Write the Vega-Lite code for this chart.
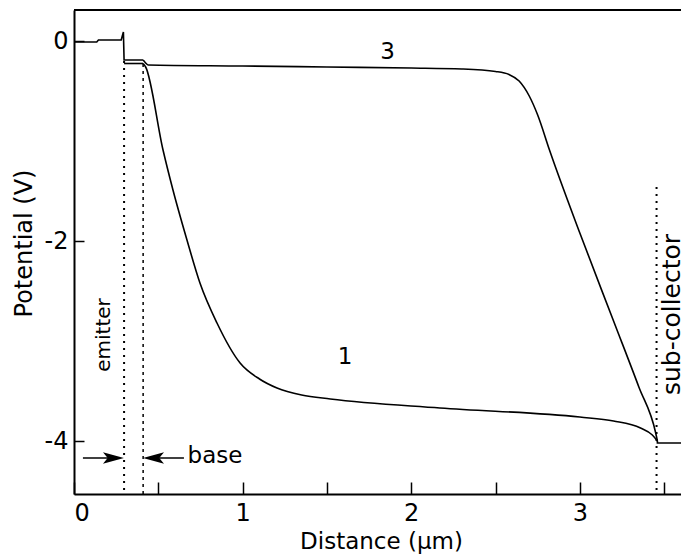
{
  "$schema": "https://vega.github.io/schema/vega-lite/v6.json",
  "width": 607,
  "height": 484,
  "autosize": {"type": "none"},
  "padding": {"left": 74, "top": 10, "right": 0, "bottom": 64},
  "background": "white",
  "config": {"view": {"stroke": null}},
  "datasets": {
    "straight": [
      {"curve": "e", "i": 0, "x": 0.0, "y": -0.01},
      {"curve": "e", "i": 1, "x": 0.135, "y": -0.01},
      {"curve": "e", "i": 2, "x": 0.145, "y": 0.01},
      {"curve": "e", "i": 3, "x": 0.28, "y": 0.01},
      {"curve": "e", "i": 4, "x": 0.293, "y": 0.09},
      {"curve": "e", "i": 5, "x": 0.297, "y": -0.19},
      {"curve": "e", "i": 6, "x": 0.41, "y": -0.19},
      {"curve": "b", "i": 0, "x": 0.297, "y": -0.225},
      {"curve": "b", "i": 1, "x": 0.41, "y": -0.225},
      {"curve": "s", "i": 0, "x": 3.46, "y": -4.0},
      {"curve": "s", "i": 1, "x": 3.46, "y": -4.02},
      {"curve": "s", "i": 2, "x": 3.6, "y": -4.02}
    ],
    "smooth": [
      {"curve": "3", "x": 0.41, "y": -0.19},
      {"curve": "3", "x": 0.425, "y": -0.22},
      {"curve": "3", "x": 0.44, "y": -0.24},
      {"curve": "3", "x": 1.0, "y": -0.25},
      {"curve": "3", "x": 1.5, "y": -0.26},
      {"curve": "3", "x": 2.0, "y": -0.27},
      {"curve": "3", "x": 2.3, "y": -0.28},
      {"curve": "3", "x": 2.5, "y": -0.305},
      {"curve": "3", "x": 2.58, "y": -0.335},
      {"curve": "3", "x": 2.64, "y": -0.4},
      {"curve": "3", "x": 2.7, "y": -0.55},
      {"curve": "3", "x": 2.75, "y": -0.74},
      {"curve": "3", "x": 2.82, "y": -1.09},
      {"curve": "3", "x": 3.0, "y": -1.92},
      {"curve": "3", "x": 3.2, "y": -2.8},
      {"curve": "3", "x": 3.35, "y": -3.46},
      {"curve": "3", "x": 3.45, "y": -3.92},
      {"curve": "3", "x": 3.46, "y": -4.0},
      {"curve": "1", "x": 0.41, "y": -0.225},
      {"curve": "1", "x": 0.425, "y": -0.26},
      {"curve": "1", "x": 0.528, "y": -1.09},
      {"curve": "1", "x": 0.587, "y": -1.49},
      {"curve": "1", "x": 0.67, "y": -1.99},
      {"curve": "1", "x": 0.747, "y": -2.42},
      {"curve": "1", "x": 0.848, "y": -2.82},
      {"curve": "1", "x": 0.985, "y": -3.22},
      {"curve": "1", "x": 1.1, "y": -3.38},
      {"curve": "1", "x": 1.204, "y": -3.47},
      {"curve": "1", "x": 1.35, "y": -3.54},
      {"curve": "1", "x": 1.52, "y": -3.58},
      {"curve": "1", "x": 2.17, "y": -3.67},
      {"curve": "1", "x": 3.0, "y": -3.76},
      {"curve": "1", "x": 3.2, "y": -3.8},
      {"curve": "1", "x": 3.36, "y": -3.87},
      {"curve": "1", "x": 3.43, "y": -3.94},
      {"curve": "1", "x": 3.46, "y": -4.0}
    ]
  },
  "encoding": {
    "x": {
      "field": "x", "type": "quantitative",
      "scale": {"domain": [0, 3.6], "nice": false, "zero": false},
      "axis": {
        "orient": "bottom",
        "values": [0, 0.5, 1, 1.5, 2, 2.5, 3, 3.5],
        "labelExpr": "datum.value % 1 == 0 ? '' + datum.value : ''",
        "grid": false,
        "tickSize": -12, "tickWidth": 1.5, "tickColor": "black",
        "domainColor": "black", "domainWidth": 2,
        "labelPadding": 19, "labelFont": "DejaVu Sans", "labelFontSize": 24, "labelColor": "black",
        "title": "Distance (μm)", "titleFont": "DejaVu Sans", "titleFontSize": 23, "titleFontWeight": "normal", "titleColor": "black",
        "titleX": 307, "titleY": 47, "titleAlign": "center", "titleBaseline": "middle", "titleAnchor": null
      }
    },
    "y": {
      "field": "y", "type": "quantitative",
      "scale": {"domain": [-4.53, 0.31], "nice": false, "zero": false},
      "axis": {
        "orient": "left",
        "values": [0, -2, -4],
        "labelExpr": "datum.value == 0 ? '0' : '-' + abs(datum.value)",
        "grid": false,
        "tickSize": -10, "tickWidth": 1.5, "tickColor": "black",
        "domainColor": "black", "domainWidth": 2,
        "labelPadding": 16, "labelFont": "DejaVu Sans", "labelFontSize": 24, "labelColor": "black",
        "title": "Potential (V)", "titleFont": "DejaVu Sans", "titleFontSize": 24, "titleFontWeight": "normal", "titleColor": "black",
        "titleX": -50, "titleY": 233, "titleAngle": 270, "titleAlign": "center", "titleBaseline": "middle", "titleAnchor": null
      }
    }
  },
  "layer": [
    {
      "data": {"values": [{"y": 0.31}]},
      "mark": {"type": "rule", "color": "black", "strokeWidth": 2},
      "encoding": {"x": null}
    },
    {
      "data": {"name": "straight"},
      "mark": {"type": "line", "color": "black", "strokeWidth": 1.6},
      "encoding": {
        "detail": {"field": "curve", "type": "nominal"},
        "order": {"field": "i", "type": "quantitative"}
      }
    },
    {
      "data": {"name": "smooth"},
      "mark": {"type": "line", "color": "black", "strokeWidth": 1.6, "interpolate": "monotone"},
      "encoding": {
        "detail": {"field": "curve", "type": "nominal"}
      }
    },
    {
      "data": {"values": [{"x": 0.297, "y": -0.2, "y2": -4.53}, {"x": 3.455, "y": -1.46, "y2": -4.53}]},
      "mark": {"type": "rule", "color": "black", "strokeWidth": 2, "strokeDash": [2, 5]},
      "encoding": {"y2": {"field": "y2"}}
    },
    {
      "data": {"values": [{"x": 0.41, "y": -0.23, "y2": -4.53}]},
      "mark": {"type": "rule", "color": "black", "strokeWidth": 1.5, "strokeDash": [3, 4]},
      "encoding": {"y2": {"field": "y2"}}
    },
    {
      "data": {"values": [{"x": 0.053, "x2": 0.25, "y": -4.17}, {"x": 0.45, "x2": 0.652, "y": -4.17}]},
      "mark": {"type": "rule", "color": "black", "strokeWidth": 1.5},
      "encoding": {"x2": {"field": "x2"}}
    },
    {
      "data": {"values": [{"x": 0.234, "y": -4.17}]},
      "mark": {"type": "point", "shape": "M1,0L-1,-0.55L-0.55,0L-1,0.55Z", "filled": true, "color": "black", "opacity": 1, "size": 441}
    },
    {
      "data": {"values": [{"x": 0.4715, "y": -4.17}]},
      "mark": {"type": "point", "shape": "M-1,0L1,-0.55L0.55,0L1,0.55Z", "filled": true, "color": "black", "opacity": 1, "size": 441}
    },
    {
      "data": {"values": [
        {"x": 1.86, "y": -0.105, "label": "3"},
        {"x": 1.607, "y": -3.16, "label": "1"},
        {"x": 0.836, "y": -4.15, "label": "base"}
      ]},
      "mark": {"type": "text", "font": "DejaVu Sans", "fontSize": 23, "color": "black", "align": "center", "baseline": "middle"},
      "encoding": {"text": {"field": "label"}}
    },
    {
      "data": {"values": [{"x": 0.175, "y": -2.94, "label": "emitter"}]},
      "mark": {"type": "text", "font": "DejaVu Sans", "fontSize": 20, "color": "black", "align": "center", "baseline": "middle", "angle": 270},
      "encoding": {"text": {"field": "label"}}
    },
    {
      "data": {"values": [{"x": 3.548, "y": -2.735, "label": "sub-collector"}]},
      "mark": {"type": "text", "font": "DejaVu Sans", "fontSize": 25, "color": "black", "align": "center", "baseline": "middle", "angle": 270},
      "encoding": {"text": {"field": "label"}}
    }
  ]
}
